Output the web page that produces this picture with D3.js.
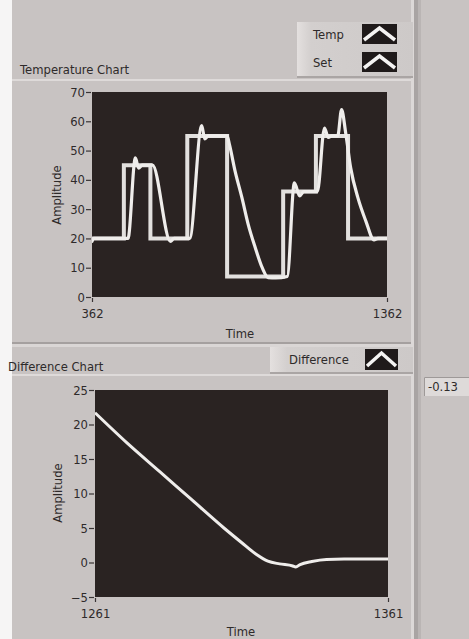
<!DOCTYPE html>
<html>
<head>
<meta charset="utf-8">
<script src="https://cdn.jsdelivr.net/npm/d3@7"></script>
<style>
  html, body { margin: 0; padding: 0; background: #c8c3c2; }
  svg { display: block; }
  text { font-family: "DejaVu Sans", Verdana, sans-serif; fill: #2e2a2a; }
</style>
</head>
<body>
<svg id="panel" width="469" height="639"></svg>
<script>
// ---- Temperature chart data ----
const tempTimes  = [362, 368, 484, 509, 520, 532, 567, 628, 640, 693, 734, 744, 756, 820, 828, 847, 870, 891, 915, 939, 959, 985, 1024, 1048, 1066, 1080, 1126, 1150, 1163, 1176, 1195, 1208, 1222, 1239, 1263, 1290, 1318, 1331, 1362];
const tempValues = [19, 20, 20, 47.5, 44, 45, 45, 19, 20, 20, 58.5, 54, 55, 55, 52, 43, 34, 25, 17, 10, 6.6, 6.5, 7, 39, 34.5, 36, 36, 57.7, 54.5, 55, 55, 64, 56, 44, 34, 26, 19.5, 20, 20];
const setTimes   = [362, 470, 560, 685, 820, 1010, 1121, 1230, 1362];
const setValues  = [20, 45, 20, 55, 7, 36, 55, 20, 20];
const tempYTicks = [0, 10, 20, 30, 40, 50, 60, 70];
const tempXTicks = [362, 1362];

// ---- Difference chart data ----
const diffTimes  = [1261, 1272, 1283, 1294, 1305, 1311, 1316, 1320, 1324, 1328.5, 1329.5, 1331, 1335, 1340, 1346, 1361];
const diffValues = [21.7, 17.3, 13.2, 9.1, 5.0, 2.9, 1.2, 0.2, -0.2, -0.5, -0.65, -0.3, 0.15, 0.45, 0.5, 0.5];
const diffYTicks = [-5, 0, 5, 10, 15, 20, 25];
const diffXTicks = [1261, 1361];
const diffReadout = "-0.13";

const svg = d3.select("#panel");
const FONT = 11.6;
const PLOT_BG = "#2a2322";
const TRACE = "#efedeb";

// ---- front panel background ----
svg.append("rect").attr("width", 469).attr("height", 639).attr("fill", "#c8c3c2");
svg.append("rect").attr("x", 0).attr("y", 0).attr("width", 12).attr("height", 639).attr("fill", "#f6f5f5");

const defs = svg.append("defs");
const shade = defs.append("linearGradient").attr("id", "shadeH");
shade.append("stop").attr("offset", "0%").attr("stop-color", "#e4e0df");
shade.append("stop").attr("offset", "12%").attr("stop-color", "#d3cfce");
shade.append("stop").attr("offset", "100%").attr("stop-color", "#cdc9c8");

// vertical divider on the right of the graphs
svg.append("rect").attr("x", 411).attr("y", 0).attr("width", 3).attr("height", 639).attr("fill", "#dcd8d7");
svg.append("rect").attr("x", 414).attr("y", 0).attr("width", 4).attr("height", 639).attr("fill", "#a9a4a3");
svg.append("rect").attr("x", 418).attr("y", 0).attr("width", 3).attr("height", 639).attr("fill", "#bab5b4");

// graph frame edges
svg.append("rect").attr("x", 12).attr("y", 79).attr("width", 399).attr("height", 2).attr("fill", "#dedad9");
svg.append("rect").attr("x", 12).attr("y", 342).attr("width", 399).attr("height", 2).attr("fill", "#a5a09f");
svg.append("rect").attr("x", 12).attr("y", 344).attr("width", 399).attr("height", 3).attr("fill", "#dad6d5");
svg.append("rect").attr("x", 12).attr("y", 374).attr("width", 399).attr("height", 2).attr("fill", "#dedad9");

function legendBox(x, y, w, h) {
  svg.append("rect").attr("x", x).attr("y", y).attr("width", w).attr("height", h).attr("fill", "url(#shadeH)");
  svg.append("rect").attr("x", x).attr("y", y + h - 2).attr("width", w).attr("height", 2).attr("fill", "#aaa5a4");
}

function legendIcon(x, y, w, h) {
  svg.append("rect").attr("x", x).attr("y", y).attr("width", w).attr("height", h).attr("fill", "#1f1a1a");
  svg.append("path")
    .attr("d", d3.line()([[x + 2, y + h - 4], [x + w / 2, y + 4], [x + w - 2, y + h - 4]]))
    .attr("fill", "none").attr("stroke", "#f4f3f2").attr("stroke-width", 3.5)
    .attr("stroke-linejoin", "miter");
}

function drawAxes(g, x, y, yTicks, xTicks) {
  const yAxis = d3.axisLeft(y).tickValues(yTicks).tickSize(5).tickPadding(1).tickFormat(d3.format("d"));
  const ya = g.append("g").attr("transform", `translate(${x.range()[0] - 1},0)`).call(yAxis);
  ya.select(".domain").remove();
  ya.selectAll("line").attr("stroke", "#3a3535").attr("stroke-width", 1.2);
  ya.selectAll("text").attr("font-size", FONT).attr("fill", "#2e2a2a").attr("dy", "0.35em")
    .style("font-family", '"DejaVu Sans", Verdana, sans-serif');

  const xAxis = d3.axisBottom(x).tickValues(xTicks).tickSize(4).tickPadding(8).tickFormat(d3.format("d"));
  const xa = g.append("g").attr("transform", `translate(0,${y.range()[0] + 1})`).call(xAxis);
  xa.select(".domain").remove();
  xa.selectAll("line").attr("stroke", "#3a3535").attr("stroke-width", 1.2);
  xa.selectAll("text").attr("font-size", FONT).attr("fill", "#2e2a2a")
    .style("font-family", '"DejaVu Sans", Verdana, sans-serif');
}

// ---- Temperature Chart ----
legendBox(297, 22, 116, 56);
svg.append("text").attr("x", 313).attr("y", 39).attr("font-size", FONT).text("Temp");
svg.append("text").attr("x", 313).attr("y", 67).attr("font-size", FONT).text("Set");
legendIcon(362, 24, 35, 20);
legendIcon(362, 52, 35, 20);

svg.append("text").attr("x", 20).attr("y", 74).attr("font-size", FONT).text("Temperature Chart");

const xT = d3.scaleLinear().domain([362, 1362]).range([92, 387]);
const yT = d3.scaleLinear().domain([0, 70]).range([297, 92]);

svg.append("rect").attr("x", 92).attr("y", 92).attr("width", 295).attr("height", 205).attr("fill", PLOT_BG);

const gT = svg.append("g");
drawAxes(gT, xT, yT, tempYTicks, tempXTicks);

const clipT = defs.append("clipPath").attr("id", "clipT");
clipT.append("rect").attr("x", 92).attr("y", 92).attr("width", 295).attr("height", 205);

const setLine = d3.line().x((d, i) => xT(setTimes[i])).y(d => yT(d)).curve(d3.curveStepAfter);
const tempLine = d3.line().x((d, i) => xT(tempTimes[i])).y(d => yT(d)).curve(d3.curveMonotoneX);

svg.append("path").attr("clip-path", "url(#clipT)")
  .attr("d", setLine(setValues))
  .attr("fill", "none").attr("stroke", "#e2e0de").attr("stroke-width", 4);
svg.append("path").attr("clip-path", "url(#clipT)")
  .attr("d", tempLine(tempValues))
  .attr("fill", "none").attr("stroke", TRACE).attr("stroke-width", 3.2)
  .attr("stroke-linejoin", "round").attr("stroke-linecap", "round");

svg.append("text").attr("x", 57).attr("y", 195).attr("font-size", FONT)
  .attr("text-anchor", "middle").attr("dominant-baseline", "central")
  .attr("transform", "rotate(-90,57,195)").text("Amplitude");
svg.append("text").attr("x", 240).attr("y", 338).attr("font-size", FONT)
  .attr("text-anchor", "middle").text("Time");

// ---- Difference Chart ----
legendBox(270, 347, 143, 27);
svg.append("text").attr("x", 289).attr("y", 364).attr("font-size", FONT).text("Difference");
legendIcon(365, 349, 33, 21);

svg.append("text").attr("x", 8).attr("y", 371).attr("font-size", FONT).text("Difference Chart");

// numeric readout
svg.append("rect").attr("x", 424).attr("y", 377).attr("width", 45).attr("height", 19).attr("fill", "#dedad9");
svg.append("path").attr("d", "M424.5,396 V377.5 H469").attr("fill", "none").attr("stroke", "#9e9998").attr("stroke-width", 1);
svg.append("text").attr("x", 428).attr("y", 391).attr("font-size", FONT).text(diffReadout);

const xD = d3.scaleLinear().domain([1261, 1361]).range([95, 388]);
const yD = d3.scaleLinear().domain([-5, 25]).range([597, 390]);

svg.append("rect").attr("x", 95).attr("y", 390).attr("width", 293).attr("height", 207).attr("fill", PLOT_BG);

const gD = svg.append("g");
drawAxes(gD, xD, yD, diffYTicks, diffXTicks);

const clipD = defs.append("clipPath").attr("id", "clipD");
clipD.append("rect").attr("x", 95).attr("y", 390).attr("width", 293).attr("height", 207);

const diffLine = d3.line().x((d, i) => xD(diffTimes[i])).y(d => yD(d)).curve(d3.curveMonotoneX);
svg.append("path").attr("clip-path", "url(#clipD)")
  .attr("d", diffLine(diffValues))
  .attr("fill", "none").attr("stroke", TRACE).attr("stroke-width", 3)
  .attr("stroke-linejoin", "round");

svg.append("text").attr("x", 58).attr("y", 493).attr("font-size", FONT)
  .attr("text-anchor", "middle").attr("dominant-baseline", "central")
  .attr("transform", "rotate(-90,58,493)").text("Amplitude");
svg.append("text").attr("x", 241).attr("y", 636).attr("font-size", FONT)
  .attr("text-anchor", "middle").text("Time");
</script>
</body>
</html>
